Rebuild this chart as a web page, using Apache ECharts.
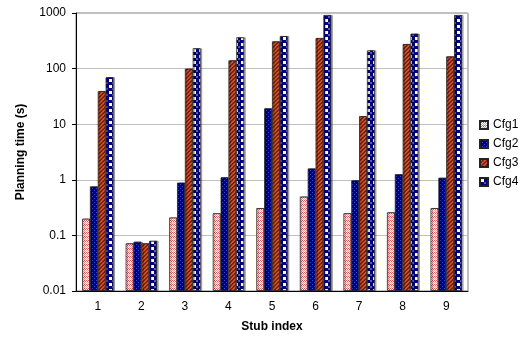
<!DOCTYPE html>
<html><head><meta charset="utf-8">
<script src="https://cdn.jsdelivr.net/npm/echarts@6/dist/echarts.min.js"></script>
<style>html,body{margin:0;padding:0;background:#fff}#c{width:524px;height:347px}</style>
</head><body><div id="c"></div>
<script>
const categories = ['1','2','3','4','5','6','7','8','9'];
const seriesNames = ['Cfg1','Cfg2','Cfg3','Cfg4'];
const cfg1 = [0.20, 0.072, 0.21, 0.25, 0.31, 0.50, 0.25, 0.26, 0.31];
const cfg2 = [0.76, 0.077, 0.89, 1.11, 19.3, 1.6, 0.98, 1.26, 1.09];
const cfg3 = [39.5, 0.072, 100, 141, 309, 355, 14.0, 277, 166];
const cfg4 = [70, 0.080, 232, 366, 385, 920, 213, 425, 920];
const yTicks = ['0.01','0.1','1','10','100','1000'];

// ECharts log-axis bars grow from value 1, so the axis is shifted by the
// axis minimum (0.01) so that bars start at the bottom of the plot.
const yMin = 0.01, yMax = 1000;
const shift = 1 / yMin;

function makePattern(size, draw){
  const c = document.createElement('canvas'); c.width = size; c.height = size;
  const g = c.getContext('2d'); draw(g, size); return c;
}
const p1 = makePattern(4, (g)=>{ g.fillStyle='#ffffff'; g.fillRect(0,0,4,4); g.fillStyle='#d85a5a';
  g.fillRect(0,0,1,1); g.fillRect(1,1,1,1); g.fillRect(2,0,1,1); g.fillRect(3,1,1,1);
  g.fillStyle='#eea0a0'; g.fillRect(0,2,1,1); g.fillRect(2,2,1,1); g.fillRect(1,3,1,1); g.fillRect(3,3,1,1); });
const p2 = makePattern(4, (g)=>{ g.fillStyle='#000080'; g.fillRect(0,0,4,4); g.fillStyle='#2f4fd8';
  g.fillRect(0,0,1,1); g.fillRect(2,2,1,1); });
const p3 = makePattern(4, (g)=>{ g.fillStyle='#d0502c'; g.fillRect(0,0,4,4); g.fillStyle='#7a2210';
  for(let i=0;i<4;i++){ g.fillRect((i+0)%4,3-i,1,1); g.fillRect((i+1)%4,3-i,1,1);} });
const p4 = makePattern(6, (g)=>{ g.fillStyle='#000080'; g.fillRect(0,0,6,6); g.fillStyle='#ffffc0';
  g.fillRect(1,1,3,3); g.fillStyle='#5a5aa0'; g.fillRect(4,4,2,2); });
const patterns = [p1,p2,p3,p4];
const dataArr = [cfg1,cfg2,cfg3,cfg4];

const chart = echarts.init(document.getElementById('c'), null, {renderer:'canvas'});
const font = 'Liberation Sans, Arial, sans-serif';
chart.setOption({
  animation:false,
  textStyle:{fontFamily:font},
  grid:{left:76, right:56, top:13, bottom:56, show:true, borderColor:'#808080', borderWidth:1},
  legend:{orient:'vertical', left:474, top:114, itemWidth:8, itemHeight:8, itemGap:7, icon:'rect',
    textStyle:{fontFamily:font, fontSize:12, color:'#000'}, data:seriesNames},
  xAxis:{type:'category', data:categories, name:'Stub index', nameLocation:'middle', nameGap:30,
    nameTextStyle:{fontFamily:font, fontWeight:'bold', fontSize:12, color:'#000'},
    axisLine:{lineStyle:{color:'#000'}}, axisTick:{length:5, lineStyle:{color:'#000'}},
    axisLabel:{fontFamily:font, fontSize:12, color:'#000', margin:10}},
  yAxis:{type:'log', logBase:10, min:yMin*shift, max:yMax*shift, name:'Planning time (s)', nameLocation:'middle', nameGap:49,
    nameTextStyle:{fontFamily:font, fontWeight:'bold', fontSize:12, color:'#000'},
    axisLine:{show:true, lineStyle:{color:'#000'}}, axisTick:{show:true, length:4, lineStyle:{color:'#000'}},
    splitLine:{lineStyle:{color:'#c0c0c0'}},
    axisLabel:{fontFamily:font, fontSize:12, color:'#000', margin:10,
      formatter:(v)=>{ const i=Math.round(Math.log10(v/shift))+2; return yTicks[i]!==undefined?yTicks[i]:''; } }},
  series: seriesNames.map((n,i)=>({
    name:n, type:'bar', data:dataArr[i].map(v=>v*shift), barGap:'0%', barCategoryGap:'28%',
    itemStyle:{color:{image:patterns[i], repeat:'repeat'}, borderColor:'#222', borderWidth:0.8,
      shadowColor:'rgba(0,0,0,0.35)', shadowOffsetX:1.5, shadowOffsetY:0}
  }))
});
</script></body></html>
